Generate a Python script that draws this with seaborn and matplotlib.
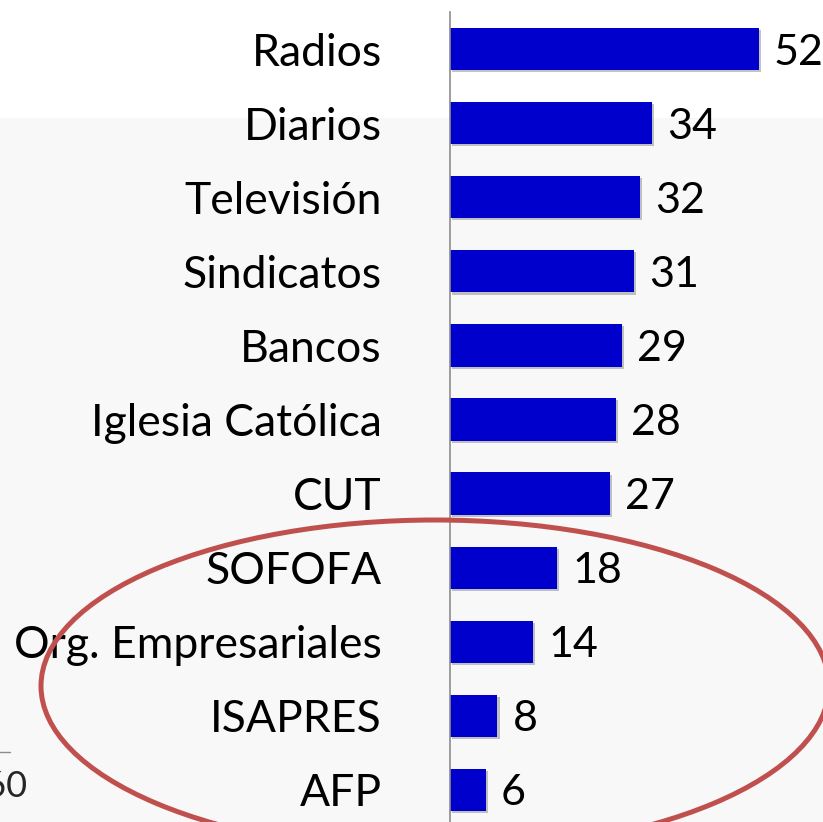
import pandas as pd
import matplotlib.pyplot as plt
import matplotlib.patheffects as pe
from matplotlib.patches import Ellipse, Rectangle
import seaborn as sns

# Datos del gráfico
instituciones = ["Radios", "Diarios", "Televisión", "Sindicatos", "Bancos",
                 "Iglesia Católica", "CUT", "SOFOFA", "Org. Empresariales",
                 "ISAPRES", "AFP"]
valores = [52, 34, 32, 31, 29, 28, 27, 18, 14, 8, 6]

AZUL = "#0000CC"
ROJO = "#C0504D"

df = pd.DataFrame({"institucion": instituciones, "valor": valores})

sns.set_style("white")
plt.rcParams["font.family"] = ["Lato", "DejaVu Sans"]

W, H = 823, 822
fig = plt.figure(figsize=(W / 100, H / 100), dpi=100)

# fondo muy claro bajo la franja superior blanca
fig.patches.append(Rectangle((0, 0), 1, (H - 118) / H, transform=fig.transFigure,
                             facecolor="#f8f8f8", edgecolor="none", zorder=-10))

# ejes en pixeles: eje vertical en x=450, de y=12 a y=827
ax = fig.add_axes([450 / W, (H - 827) / H, 356 / W, 815 / H])
ax.patch.set_alpha(0)

sns.barplot(data=df, y="institucion", x="valor", orient="h", color=AZUL,
            width=0.57, saturation=1, ax=ax)

for barra in ax.patches:
    barra.set_linewidth(0)
    barra.set_path_effects([pe.SimplePatchShadow(offset=(1.5, -1.5), shadow_rgbFace="#555555",
                                                 alpha=0.35),
                            pe.Normal()])

etiquetas = ax.bar_label(ax.containers[0], fmt="%d", padding=11, fontsize=31, color="black")
for t in etiquetas:
    t.set_va("center_baseline")

ax.set_xlim(0, 60)
ax.set_xlabel("")
ax.set_ylabel("")
ax.set_xticks([])
ax.tick_params(axis="y", length=0, pad=49, labelsize=32, labelcolor="black")
for lado in ["top", "right", "bottom"]:
    ax.spines[lado].set_visible(False)
ax.spines["left"].set_color("#8c8c8c")
ax.spines["left"].set_linewidth(1.2)

# restos del gráfico vecino (esquina inferior izquierda, cortado como en el original)
fig.text(27 / W, (H - 786) / H, "60", fontsize=26, va="center", ha="right")
fig.lines.append(plt.Line2D([0, 10 / W], [(H - 752) / H] * 2, transform=fig.transFigure,
                            color="#8c8c8c", linewidth=1))

# elipse roja sobre los últimos grupos
capa = fig.add_axes([0, 0, 1, 1])
capa.set_xlim(0, W)
capa.set_ylim(H, 0)
capa.axis("off")
capa.patch.set_alpha(0)
capa.add_patch(Ellipse((435, 686), 2 * 394, 2 * 166, fill=False,
                       edgecolor=ROJO, linewidth=3.6))

fig.savefig("out.png", dpi=100)
